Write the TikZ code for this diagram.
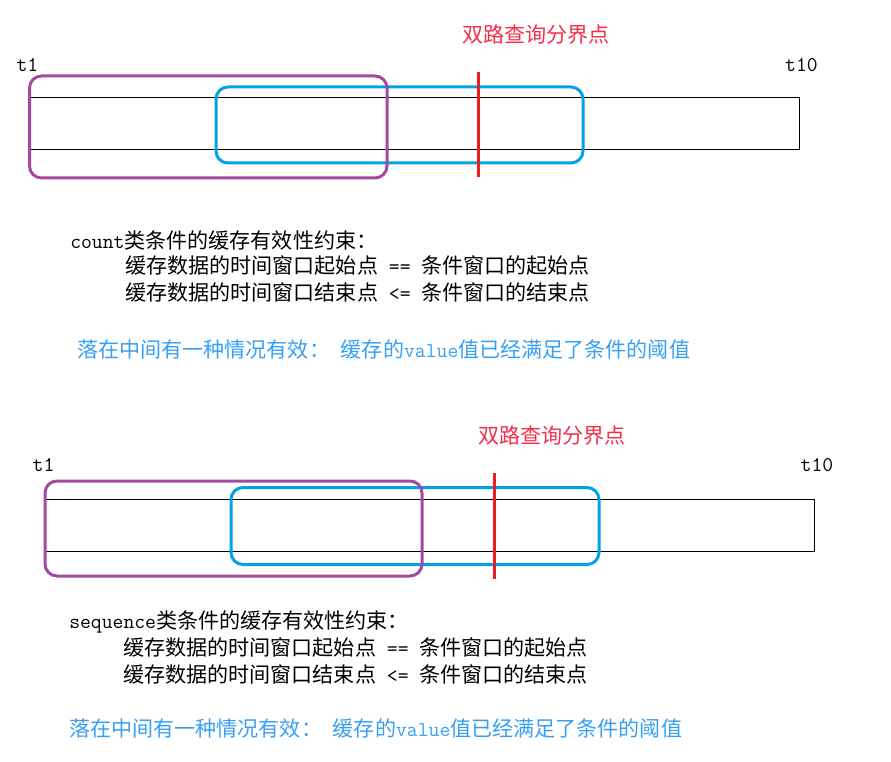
\documentclass[tikz,border=0pt]{standalone}
\usepackage{fontspec}
\setmainfont{Noto Sans CJK SC}
\definecolor{winpurple}{RGB}{163,73,164}
\definecolor{winblue}{RGB}{0,162,232}
\definecolor{winred}{RGB}{237,28,36}
\definecolor{notered}{RGB}{245,45,75}
\definecolor{noteblue}{RGB}{55,160,245}
\begin{document}
\begin{tikzpicture}[x=0.75pt, y=-0.75pt, every node/.style={inner sep=0pt, font=\fontsize{15.8}{19}\selectfont},
  timeline/.style={draw=black, line width=0.75pt},
  purplewin/.style={draw=winpurple, line width=2.25pt, rounded corners=9pt},
  bluewin/.style={draw=winblue, line width=2.25pt, rounded corners=9pt},
  splitline/.style={draw=winred, line width=2.25pt},
  splitlabel/.style={text=notered},
  tick/.style={font=\fontsize{15.8}{19}\selectfont\ttfamily},
  note/.style={text=noteblue}]
\useasboundingbox (0,0) rectangle (891,762);

\draw[timeline] (30,98) rectangle (799,150);
\draw[bluewin] (216,87) rectangle (583,163);
\draw[purplewin] (29.5,76) rectangle (387,178);
\coordinate (splitAtop) at (478,72);
\coordinate (splitAbot) at (478,177);
\draw[splitline] (splitAtop) -- (splitAbot);
\node[splitlabel] (splitAlabel) at (536,35) {双路查询分界点};
\node[tick] (tAfirst) at (27.5,65) {t1};
\node[tick] (tAlast) at (801.5,65) {t10};
\node[anchor=west] (countHead) at (70,240) {{\ttfamily count}类条件的缓存有效性约束：};
\node[anchor=west] (countStart) at (125,266) {缓存数据的时间窗口起始点{\ttfamily\ ==\ }条件窗口的起始点};
\node[anchor=west] (countEnd) at (125,292) {缓存数据的时间窗口结束点{\ttfamily\ <=\ }条件窗口的结束点};
\node[note, anchor=west] (countNote) at (77,349) {落在中间有一种情况有效：{\ttfamily\ }缓存的{\ttfamily value}值已经满足了条件的阈值};

\draw[timeline] (45,499.5) rectangle (814,551.5);
\draw[bluewin] (231,487.5) rectangle (599,564.5);
\draw[purplewin] (45,481) rectangle (422,576);
\coordinate (splitBtop) at (494,473);
\coordinate (splitBbot) at (494,579);
\draw[splitline] (splitBtop) -- (splitBbot);
\node[splitlabel] (splitBlabel) at (552,436) {双路查询分界点};
\node[tick] (tBfirst) at (43.5,465) {t1};
\node[tick] (tBlast) at (817,465) {t10};
\node[anchor=west] (seqHead) at (69,621.5) {{\ttfamily sequence}类条件的缓存有效性约束：};
\node[anchor=west] (seqStart) at (123,648) {缓存数据的时间窗口起始点{\ttfamily\ ==\ }条件窗口的起始点};
\node[anchor=west] (seqEnd) at (123,674) {缓存数据的时间窗口结束点{\ttfamily\ <=\ }条件窗口的结束点};
\node[note, anchor=west] (seqNote) at (69,728) {落在中间有一种情况有效：{\ttfamily\ }缓存的{\ttfamily value}值已经满足了条件的阈值};
\end{tikzpicture}
\end{document}
